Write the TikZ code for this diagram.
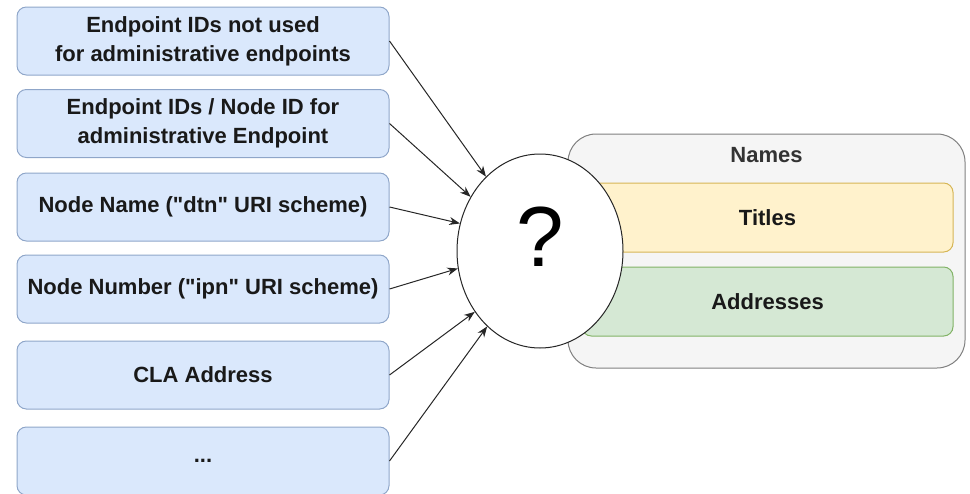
\documentclass[tikz,border=0pt]{standalone}
\usepackage{fontspec}
\setmainfont{Liberation Sans}[Ligatures=TeXOff]
\usetikzlibrary{arrows.meta,shapes.geometric}
\definecolor{bfill}{HTML}{DAE8FC}
\definecolor{bdraw}{HTML}{8FA6C9}
\definecolor{yfill}{HTML}{FFF2CC}
\definecolor{ydraw}{HTML}{D6B656}
\definecolor{gfill}{HTML}{D5E8D4}
\definecolor{gdraw}{HTML}{82B366}
\definecolor{cfill}{HTML}{F5F5F5}
\definecolor{cdraw}{HTML}{808080}
\definecolor{ctext}{HTML}{333333}
\tikzset{
  lbox/.style={draw=bdraw, fill=bfill, rounded corners=7pt, line width=0.75pt,
    minimum width=279pt, minimum height=51pt, inner sep=0pt, align=center,
    font=\fontsize{16.5}{21.75}\selectfont\bfseries, text=black!90},
  ibox/.style={rounded corners=7pt, line width=0.75pt,
    minimum width=278.25pt, minimum height=51.75pt, inner sep=0pt,
    font=\fontsize{16.5}{21.75}\selectfont\bfseries, text=black!90},
  conn/.style={-{Stealth[length=8pt,width=6pt]}, line width=0.75pt, black!85},
}
\begin{document}
\begin{tikzpicture}[x=0.75pt,y=-0.75pt]
\useasboundingbox (0,0) rectangle (970,493);
% container
\node[draw=cdraw, fill=cfill, rounded corners=21pt, line width=0.75pt,
  minimum width=297.75pt, minimum height=175.5pt] (names) at (766.5,251) {};
\node[text=ctext, font=\fontsize{16.5}{20}\selectfont\bfseries] (namest) at (766.5,155) {Names};
\node[ibox, draw=ydraw, fill=yfill] (titles) at (767.5,217.5) {Titles};
\node[ibox, draw=gdraw, fill=gfill] (addr) at (767.5,301.5) {Addresses};
% ellipse
\node[ellipse, draw=black!85, fill=white, line width=0.75pt, inner sep=0pt,
  minimum width=124.5pt, minimum height=145.5pt] (q) at (540,251) {};
\node[font=\fontsize{64}{70}\selectfont, inner sep=0pt] (qm) at (540,237) {?};
% left boxes
\node[lbox] (b1) at (203,41) {Endpoint IDs not used\\for administrative endpoints};
\node[lbox] (b2) at (203,123.5) {Endpoint IDs / Node ID for\\administrative Endpoint};
\node[lbox] (b3) at (203,207) {Node Name ("dtn" URI scheme)};
\node[lbox] (b4) at (203,289) {Node Number ("ipn" URI scheme)};
\node[lbox] (b5) at (203,375) {CLA Address};
\node[lbox] (b6) at (203,461) {...};
% connectors
\draw[conn] (b1.east) -- (q.126);
\draw[conn] (b2.east) -- (q.142);
\draw[conn] (b3.east) -- (q.161);
\draw[conn] (b4.east) -- (q.192);
\draw[conn] (b5.east) -- (q.223);
\draw[conn] (b6.east) -- (q.235);
\end{tikzpicture}
\end{document}
